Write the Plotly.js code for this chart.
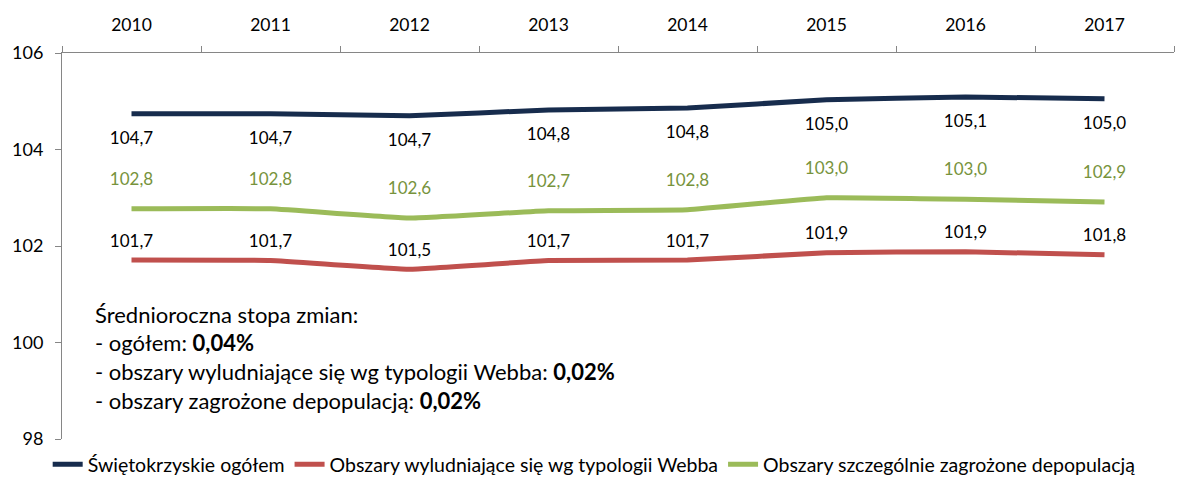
<!DOCTYPE html>
<html>
<head>
<meta charset="utf-8">
<script src="https://cdn.plot.ly/plotly-3.0.1.min.js"></script>
<style>html,body{margin:0;padding:0;background:#fff;}#chart{width:1192px;height:477px;}</style>
</head>
<body>
<div id="chart"></div>
<script>
const years = ['2010','2011','2012','2013','2014','2015','2016','2017'];
const ogolem = [104.74, 104.74, 104.70, 104.82, 104.86, 105.03, 105.09, 105.05];
const ogolemLabels = ['104,7','104,7','104,7','104,8','104,8','105,0','105,1','105,0'];
const webb = [101.71, 101.70, 101.52, 101.70, 101.71, 101.86, 101.88, 101.82];
const webbLabels = ['101,7','101,7','101,5','101,7','101,7','101,9','101,9','101,8'];
const depop = [102.77, 102.77, 102.58, 102.73, 102.75, 103.00, 102.97, 102.91];
const depopLabels = ['102,8','102,8','102,6','102,7','102,8','103,0','103,0','102,9'];
const seriesNames = ['Świętokrzyskie ogółem','Obszary wyludniające się wg typologii Webba','Obszary szczególnie zagrożone depopulacją'];
const noteLines = ['Średnioroczna stopa zmian:','- ogółem: <b>0,04%</b>','- obszary wyludniające się wg typologii Webba: <b>0,02%</b>','- obszary zagrożone depopulacją: <b>0,02%</b>'];
const yTicks = [98, 100, 102, 104, 106];

const FONT = 'Lato, "Open Sans", sans-serif';

function series(y, text, name, color, textColor, pos, offsetSize) {
  return {x: years, y: y, text: text, name: name, mode: 'lines+markers+text', textposition: pos,
    line: {color: color, width: 5, shape: 'spline', smoothing: 0.3},
    marker: {size: offsetSize, color: 'rgba(0,0,0,0)', line: {width: 0, color: 'rgba(0,0,0,0)'}},
    textfont: {color: textColor, size: 17, family: FONT}};
}

const traces = [
  series(ogolem, ogolemLabels, seriesNames[0], '#172C4D', '#000', 'bottom center', 26),
  series(webb, webbLabels, seriesNames[1], '#C0504D', '#000', 'top center', 13),
  series(depop, depopLabels, seriesNames[2], '#9BBB59', '#77933C', 'top center', 30)
];

const noteY = [100.59, 99.99, 99.39, 98.79];
const annotations = noteLines.map((t, i) => ({
  text: t, xref: 'paper', yref: 'y', x: 0.028, y: noteY[i], xanchor: 'left', yanchor: 'middle',
  showarrow: false, font: {size: 22, family: FONT, color: '#000'}
}));

const layout = {
  width: 1192, height: 477,
  margin: {l: 62, r: 18, t: 53, b: 38},
  paper_bgcolor: '#fff', plot_bgcolor: '#fff',
  font: {family: FONT, size: 17, color: '#000'},
  showlegend: true,
  legend: {orientation: 'h', xref: 'container', yref: 'container', x: 0.04, y: 0.026, xanchor: 'left', yanchor: 'middle',
    bgcolor: 'rgba(0,0,0,0)', font: {size: 19.5, family: FONT}, traceorder: 'normal', itemwidth: 30, tracegroupgap: 0},
  xaxis: {type: 'category', side: 'top', range: [-0.5, 7.5], tickson: 'boundaries', ticks: 'outside', ticklen: 6,
    tickcolor: '#868686', showline: true, linecolor: '#868686', linewidth: 1, showgrid: false, zeroline: false,
    ticklabelstandoff: 14, tickfont: {size: 17.5, family: FONT}},
  yaxis: {range: [98, 106], tickvals: yTicks, ticks: 'outside', ticklen: 6, tickcolor: '#868686',
    showline: true, linecolor: '#868686', linewidth: 1, showgrid: false, zeroline: false,
    ticklabelstandoff: 8, tickfont: {size: 18, family: FONT}},
  annotations: annotations
};

Plotly.newPlot('chart', traces, layout, {displayModeBar: false, staticPlot: true});
</script>
</body>
</html>
